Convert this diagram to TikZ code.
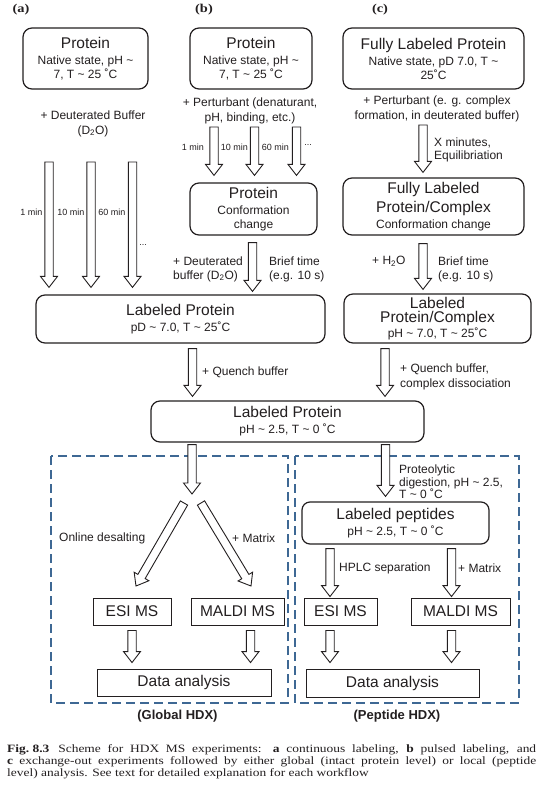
\documentclass[tikz,border=0pt]{standalone}
\usepackage{fontspec}
\setmainfont{Liberation Sans}
\newfontfamily\capfont[FakeStretch=1.2]{Liberation Serif}
\usetikzlibrary{calc}
\definecolor{ink}{RGB}{35,31,32}
\definecolor{dashblue}{RGB}{62,104,148}
\newcommand\fT{\fontsize{15.5}{17}\selectfont}
\newcommand\fS{\fontsize{12}{14}\selectfont}
\newcommand\fM{\fontsize{9}{11}\selectfont}
\newcommand\tld{\textasciitilde}
\newcommand\degr{˚}
\newcommand\harrow[2]{%
  \path #1 coordinate (hs) #2 coordinate (he);
  \coordinate (hb) at ($(he)!11pt!(hs)$);
  \filldraw[harr] ($(hs)!4.2pt!90:(he)$) -- ($(hb)!4.2pt!90:(he)$) -- ($(hb)!8.5pt!90:(he)$) -- (he)
    -- ($(hb)!8.5pt!-90:(he)$) -- ($(hb)!4.2pt!-90:(he)$) -- ($(hs)!4.2pt!-90:(he)$) -- cycle;}
\begin{document}
\begin{tikzpicture}[x=1pt,y=-1pt,
  rbox/.style={draw=ink, line width=1.2pt, rounded corners=9pt, inner sep=0pt, align=center, text=ink, font=\fS},
  sbox/.style={draw=ink, line width=0.9pt, inner sep=0pt, text=ink, font=\fT},
  harr/.style={draw=ink, fill=white, line width=0.9pt, line join=miter},
  lbl/.style={font=\fS, text=ink, inner sep=0pt},
  mlbl/.style={font=\fM, text=ink, inner sep=0pt},
  panel/.style={font=\capfont\fontsize{12}{14}\selectfont\bfseries, text=ink, inner sep=0pt},
  grp/.style={font=\fontsize{13}{15}\selectfont\bfseries, text=ink, inner sep=0pt},
  dbox/.style={draw=dashblue, line width=1.3pt, dash pattern=on 9pt off 5pt}]
\useasboundingbox[fill=white] (0,0) rectangle (559,797);

% panel letters
\node[panel] (pa) at (21,10) {(a)};
\node[panel] (pb) at (204,10) {(b)};
\node[panel] (pc) at (380,10) {(c)};

% top boxes
\node[rbox, minimum width=125pt, minimum height=61pt] (a1) at (85.5,58.5)
  {{\fT Protein}\\[2pt]Native state, pH \tld\\7, T \tld\ 25 \degr C};
\node[rbox, minimum width=122pt, minimum height=61pt] (b1) at (251,58.5)
  {{\fT Protein}\\[2pt]Native state, pH \tld\\7, T \tld\ 25 \degr C};
\node[rbox, minimum width=181pt, minimum height=61pt] (c1) at (433.5,58.5)
  {{\fT Fully Labeled Protein}\\[2pt]Native state, pD 7.0, T \tld\\25\degr C};

\node[rbox, minimum width=127pt, minimum height=52pt] (b2) at (253.5,209)
  {{\fT Protein}\\[2pt]Conformation\\change};
\node[rbox, minimum width=181pt, minimum height=57pt] (c2) at (433.5,206.5)
  {{\fT Fully Labeled}\\[4pt]{\fT Protein/Complex}\\[2pt]Conformation change};

\node[rbox, minimum width=289pt, minimum height=48pt] (lp1) at (180.5,319)
  {{\fT Labeled Protein}\\[2pt]pD \tld\ 7.0, T \tld\ 25\degr C};
\node[rbox, minimum width=187pt, minimum height=49pt] (c3) at (437.5,318.5)
  {{\fT Labeled}\\[0.5pt]{\fT Protein/Complex}\\[0.5pt]pH \tld\ 7.0, T \tld\ 25\degr C};

\node[rbox, minimum width=273pt, minimum height=41pt] (lp2) at (287.5,421.5)
  {{\fT Labeled Protein}\\[2pt]pH \tld\ 2.5, T \tld\ 0 \degr C};

% dashed groups
\draw[dbox] (51,456) rectangle (288,703);
\draw[dbox] (295,456) rectangle (519,703);

\node[rbox, rounded corners=8pt, minimum width=187pt, minimum height=42pt] (lpep) at (395.5,523)
  {{\fT Labeled peptides}\\[2pt]pH \tld\ 2.5, T \tld\ 0 \degr C};

\node[sbox, minimum width=78pt, minimum height=27pt] (esig) at (132,611.5) {ESI MS};
\node[sbox, minimum width=93pt, minimum height=27pt] (maldig) at (237.5,611.5) {MALDI MS};
\node[sbox, minimum width=174pt, minimum height=27pt] (dag) at (184,682.5) {Data analysis};
\node[sbox, minimum width=73pt, minimum height=27pt] (esip) at (340.5,611.5) {ESI MS};
\node[sbox, minimum width=99pt, minimum height=27pt] (maldip) at (460.5,611.5) {MALDI MS};
\node[sbox, minimum width=173pt, minimum height=28pt] (dap) at (392.5,683) {Data analysis};

\node[grp] (glab) at (177.5,716) {(Global HDX)};
\node[grp] (plab) at (397,716) {(Peptide HDX)};

% labels
\node[lbl, align=center] (dbuf) at (93,123.5) {+ Deuterated Buffer\\[1pt](D\textsubscript{2}O)};
\node[lbl, align=center] (pertb) at (250,110.5) {+ Perturbant (denaturant,\\[1pt]pH, binding, etc.)};
\node[lbl, align=center] (pertc) at (437,108.5) {+ Perturbant (e. g. complex\\[1pt]formation, in deuterated buffer)};
\node[lbl, align=left, anchor=west] (xmin) at (434,149.5) {X minutes,\\[-1pt]Equilibriation};
\node[lbl, align=left, anchor=west] (dbufb) at (173,269) {+ Deuterated\\buffer (D\textsubscript{2}O)};
\node[lbl, align=left, anchor=west] (briefb) at (269,269) {Brief time\\(e.g. 10 s)};
\node[lbl, anchor=west] (h2o) at (372,261) {+ H\textsubscript{2}O};
\node[lbl, align=left, anchor=west] (briefc) at (438,269.5) {Brief time\\(e.g. 10 s)};
\node[lbl, anchor=west] (quench) at (202,372) {+ Quench buffer};
\node[lbl, align=left, anchor=west] (quenchc) at (400,376.5) {+ Quench buffer,\\[1pt]complex dissociation};
\node[lbl, anchor=west] (online) at (59,538) {Online desalting};
\node[lbl, anchor=west] (matg) at (232,538) {+ Matrix};
\node[lbl, align=left, anchor=west] (proteo) at (399,482) {Proteolytic\\[-1pt]digestion, pH \tld\ 2.5,\\[-2pt]T \tld\ 0 \degr C};
\node[lbl, anchor=west] (hplc) at (339,568) {HPLC separation};
\node[lbl, anchor=west] (matp) at (458,568) {+ Matrix};

% time labels
\node[mlbl, anchor=east] (ta1) at (42.5,212) {1 min};
\node[mlbl, anchor=east] (ta2) at (84.5,212) {10 min};
\node[mlbl, anchor=east] (ta3) at (125.5,212) {60 min};
\node[mlbl] (tad) at (143,245) {...};
\node[mlbl, anchor=east] (tb1) at (204,147) {1 min};
\node[mlbl, anchor=east] (tb2) at (248,147) {10 min};
\node[mlbl, anchor=east] (tb3) at (289,147) {60 min};
\node[mlbl] (tbd) at (308,145) {...};

% free arrow ends
\coordinate (sa1) at (49,162);
\coordinate (sa2) at (91,162);
\coordinate (sa3) at (132.5,162);
\coordinate (sb1) at (214,127);
\coordinate (sb2) at (254.5,127);
\coordinate (sb3) at (296.5,127);
\coordinate (sc1) at (423,125);
\coordinate (gsplit) at (192,494);
\coordinate (gls) at (184,503);
\coordinate (gle) at (136,586);
\coordinate (grs) at (201,503);
\coordinate (gre) at (251,586);

% arrows
\harrow{(sa1)}{([yshift=7pt]lp1.north -| sa1)}
\harrow{(sa2)}{([yshift=7pt]lp1.north -| sa2)}
\harrow{(sa3)}{([yshift=7pt]lp1.north -| sa3)}
\harrow{(sb1)}{([yshift=7pt]b2.north -| sb1)}
\harrow{(sb2)}{([yshift=7pt]b2.north -| sb2)}
\harrow{(sb3)}{([yshift=7pt]b2.north -| sb3)}
\harrow{([yshift=-7pt]b2.south -| 252.5,0)}{([yshift=3pt]lp1.north -| 252.5,0)}
\harrow{(sc1)}{([yshift=5pt]c2.north -| sc1)}
\harrow{([yshift=-8pt]c2.south -| sc1)}{([yshift=4pt]c3.north -| sc1)}
\harrow{([yshift=-5pt]lp1.south -| 192.5,0)}{([yshift=4pt]lp2.north -| 192.5,0)}
\harrow{([yshift=-5pt]c3.south -| 385,0)}{([yshift=4pt]lp2.north -| 385,0)}
\harrow{([yshift=-2pt]lp2.south -| gsplit)}{(gsplit)}
\harrow{(gls)}{(gle)}
\harrow{(grs)}{(gre)}
\harrow{([yshift=-2pt]lp2.south -| 385.5,0)}{([yshift=5pt]lpep.north -| 385.5,0)}
\harrow{([yshift=-4pt]lpep.south -| 330,0)}{([yshift=1pt]esip.north -| 330,0)}
\harrow{([yshift=-4pt]lpep.south -| 451.5,0)}{([yshift=1pt]maldip.north -| 451.5,0)}
\harrow{([yshift=-5pt]esig.south -| 132,0)}{([yshift=6pt]dag.north -| 132,0)}
\harrow{([yshift=-5pt]maldig.south -| 250.5,0)}{([yshift=6pt]dag.north -| 250.5,0)}
\harrow{([yshift=-5pt]esip.south -| 330,0)}{([yshift=6pt]dap.north -| 330,0)}
\harrow{([yshift=-5pt]maldip.south -| 451.5,0)}{([yshift=6pt]dap.north -| 451.5,0)}

% caption
\node[anchor=north west, inner sep=0pt, text=ink] (cap) at (7,744.3) {\parbox{529pt}{\capfont\fontsize{11.2}{12}\selectfont
\mbox{\textbf{Fig.\ 8.3}}\hspace{0.8em}Scheme for HDX MS experiments: \textbf{a} continuous labeling, \textbf{b} pulsed labeling, and\linebreak
\textbf{c} exchange-out experiments followed by either global (intact protein level) or local (peptide\linebreak
level) analysis. See text for detailed explanation for each workflow}};
\end{tikzpicture}
\end{document}
